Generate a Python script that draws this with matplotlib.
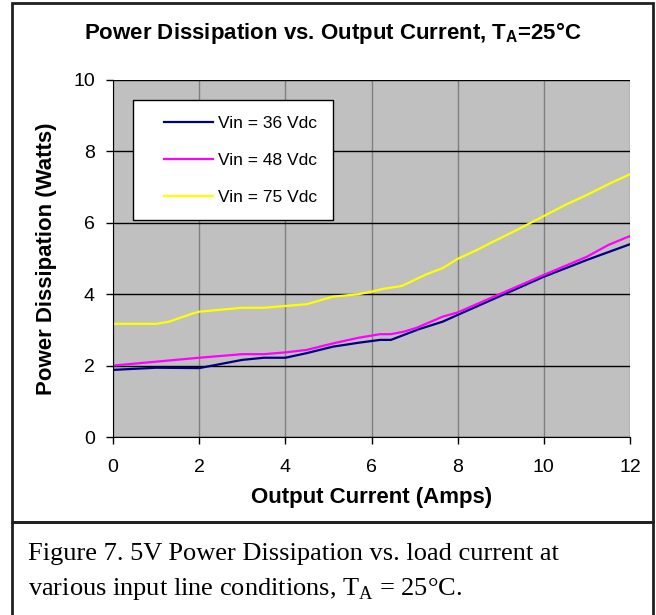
import matplotlib
matplotlib.use("Agg")
import matplotlib.pyplot as plt
from matplotlib.patches import Rectangle
from matplotlib.legend_handler import HandlerLine2D

plt.rcParams['font.family'] = ['Liberation Sans', 'DejaVu Sans']
plt.rcParams['mathtext.fontset'] = 'custom'
plt.rcParams['mathtext.rm'] = 'Liberation Serif'
plt.rcParams['mathtext.bf'] = 'Liberation Sans:bold'

# data
i_36 = [0, 1, 2, 3, 3.5, 4, 4.5, 5.1, 5.7, 6.2, 6.45, 7.1, 7.65, 8, 10, 11, 12]
p_36 = [1.88, 1.94, 1.93, 2.16, 2.22, 2.22, 2.35, 2.53, 2.64, 2.72, 2.72, 3.02, 3.23, 3.42, 4.49, 4.96, 5.40]

i_48 = [0, 2, 3, 3.5, 4, 4.5, 5.1, 5.7, 6.2, 6.45, 6.75, 7.05, 7.65, 8, 10, 11, 11.5, 12]
p_48 = [2.0, 2.22, 2.32, 2.32, 2.37, 2.44, 2.62, 2.78, 2.88, 2.88, 2.95, 3.06, 3.37, 3.49, 4.54, 5.05, 5.38, 5.63]

i_75 = [0, 1, 1.3, 1.85, 2, 3, 3.5, 4, 4.5, 5.1, 5.7, 6.0, 6.27, 6.7, 7.0, 7.28, 7.65, 8,
        8.45, 8.82, 9.26, 9.63, 10, 10.53, 11, 11.53, 12]
p_75 = [3.17, 3.17, 3.23, 3.46, 3.51, 3.62, 3.62, 3.67, 3.72, 3.93, 4.0, 4.07, 4.15, 4.23, 4.4,
        4.56, 4.73, 4.99, 5.24, 5.47, 5.73, 5.96, 6.19, 6.52, 6.78, 7.1, 7.36]

labels = ['Vin = 36 Vdc', 'Vin = 48 Vdc', 'Vin = 75 Vdc']
colors = ['#000080', '#FF00FF', '#FFFF00']

fig = plt.figure(figsize=(6.56, 6.15), dpi=100)
ax = fig.add_axes([113 / 656, 1 - 437 / 615, 517 / 656, 357 / 615])
ax.set_facecolor('#C0C0C0')

ax.plot(i_36, p_36, color=colors[0], lw=1.6, label=labels[0])
ax.plot(i_48, p_48, color=colors[1], lw=1.6, label=labels[1])
ax.plot(i_75, p_75, color=colors[2], lw=1.6, label=labels[2])

ax.set_xlim(0, 12)
ax.set_ylim(0, 10)
ax.set_xticks(range(0, 13, 2))
ax.set_yticks(range(0, 11, 2))
ax.xaxis.grid(True, color='#808080', lw=1)
ax.yaxis.grid(True, color='black', lw=1)
ax.set_axisbelow(True)
for s in ['top', 'right']:
    ax.spines[s].set_visible(False)
ax.tick_params(direction='out', length=5, width=1, labelsize=14, colors='black')
ax.tick_params(axis='y', pad=8)
ax.tick_params(axis='x', pad=11)

ax.set_xlabel('Output Current (Amps)', fontsize=16, fontweight='bold', labelpad=8)
ax.set_ylabel('Power Dissipation (Watts)', fontsize=16, fontweight='bold', labelpad=12)

# line handles start a bit right of the box edge, like the original legend
leg = ax.legend(loc='upper left', bbox_to_anchor=(20 / 517, 1 - 20 / 357), fontsize=12.5,
                frameon=True, fancybox=False, edgecolor='black', framealpha=1,
                handlelength=3.7, labelspacing=1.26, borderpad=0.9, borderaxespad=0,
                handletextpad=0.3, handler_map={plt.Line2D: HandlerLine2D(xpad=0.9)})
leg.get_frame().set_linewidth(1)

fig.text(333 / 656, 1 - 39 / 615, r'Power Dissipation vs. Output Current, T$_\mathbf{A}$=25°C',
         ha='center', va='baseline', fontsize=16, fontweight='bold')

# frames around chart and caption
fig.patches.append(Rectangle((12 / 656, 1 - 522 / 615), 641 / 656, 519 / 615,
                             transform=fig.transFigure, fill=False, edgecolor='#202020', lw=2))
fig.patches.append(Rectangle((12 / 656, -0.01), 641 / 656, 1 - 522 / 615 + 0.01,
                             transform=fig.transFigure, fill=False, edgecolor='#202020', lw=2))

fig.text(28 / 656, 1 - 560 / 615, 'Figure 7. 5V Power Dissipation vs. load current at',
         ha='left', va='baseline', fontsize=19, family='Liberation Serif')
fig.text(28 / 656, 1 - 595 / 615, r'various input line conditions, T$_\mathrm{A}$ = 25°C.',
         ha='left', va='baseline', fontsize=19, family='Liberation Serif')

fig.savefig('out.png', dpi=100)
